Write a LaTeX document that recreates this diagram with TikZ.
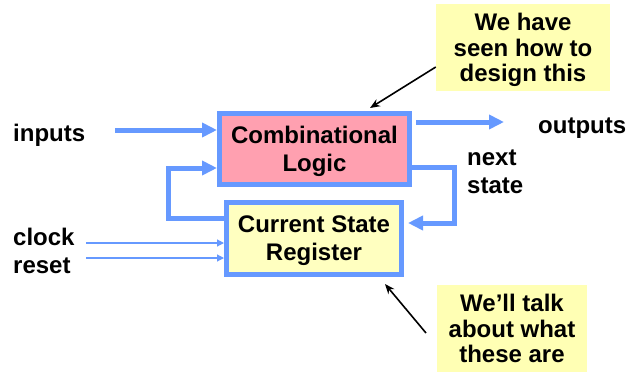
\documentclass[tikz,border=0pt]{standalone}
\usepackage{fontspec}
\setmainfont{Liberation Sans}
\usetikzlibrary{positioning,arrows.meta}
\definecolor{wire_blue}{HTML}{6699FF}
\definecolor{logic_pink}{HTML}{FFA0B0}
\definecolor{reg_yellow}{HTML}{FFFFC0}
\definecolor{note_yellow}{HTML}{FFFFB4}
\tikzset{
  big_text/.style={font=\fontsize{24}{28}\selectfont\bfseries},
  block/.style={draw=wire_blue,line width=5pt,big_text,align=center,inner sep=0pt,text depth=0pt},
  bus/.style={wire_blue,line width=5pt,-{Triangle[length=15pt,width=14pt]}},
  thin_wire/.style={wire_blue,line width=1.2pt,-{Triangle[length=7pt,width=7pt]}},
  note/.style={fill=note_yellow,font=\fontsize{24}{25.5}\selectfont\bfseries,align=center,inner sep=0pt,text depth=0pt},
  pointer/.style={black,line width=1.6pt,-{Stealth[length=10pt,width=8pt]}},
  label_text/.style={font=\fontsize{24}{28}\selectfont\bfseries,anchor=base west,inner sep=0pt,align=left}
}
\begin{document}
\begin{tikzpicture}[x=1pt,y=-1pt]
        \useasboundingbox (0,0) rectangle (627,372);
        % the two blocks
        \node [block,fill=logic_pink,minimum width=190pt,minimum height=71pt] (comb_logic) at (314.5,149) {Combinational\\Logic};
        \node [block,fill=reg_yellow,minimum width=175pt,minimum height=72pt] (state_reg) at (314,238.5) {Current State\\Register};
        % labels
        \node [label_text] (inputs) at (13,141) {inputs};
        \node [label_text] (outputs) at (538,133) {outputs};
        \node [label_text] (next_state) at (467,193) {next\\state};
        \node [label_text] (clock) at (13,245) {clock};
        \node [label_text] (reset) at (13,273) {reset};
        % free ends
        \coordinate (inputs_start) at (115,130);
        \coordinate (outputs_end) at (504,122);
        \coordinate (clock_start) at (86,243);
        \coordinate (reset_start) at (86,258);
        % wires
        \draw [bus] (inputs_start) -- ([yshift=19pt]comb_logic.west);
        \draw [bus] ([xshift=4pt,yshift=27pt]comb_logic.east) -- (outputs_end);
        \draw [bus] ([yshift=-18pt]comb_logic.east) -- ++(42,0) |- ([xshift=4pt,yshift=15.5pt]state_reg.east);
        \draw [bus] ([yshift=20.5pt]state_reg.west) -- ++(-56,0) |- ([yshift=-19pt]comb_logic.west);
        \draw [thin_wire] (clock_start) -- (clock_start -| state_reg.west);
        \draw [thin_wire] (reset_start) -- (reset_start -| state_reg.west);
        % notes
        \node [note,minimum width=174pt,minimum height=87pt] (note_logic) at (523,47.5) {We have\\seen how to\\design this};
        \node [note,minimum width=150pt,minimum height=87pt] (note_reg) at (512,328.5) {We’ll talk\\about what\\these are};
        \coordinate (logic_tip) at (370,108);
        \coordinate (reg_tip) at (385,284);
        \coordinate (reg_note_start) at (426,333);
        \draw [pointer] ([yshift=-19.5pt]note_logic.west) -- (logic_tip);
        \draw [pointer] (reg_note_start) -- (reg_tip);
    \end{tikzpicture}
\end{document}
